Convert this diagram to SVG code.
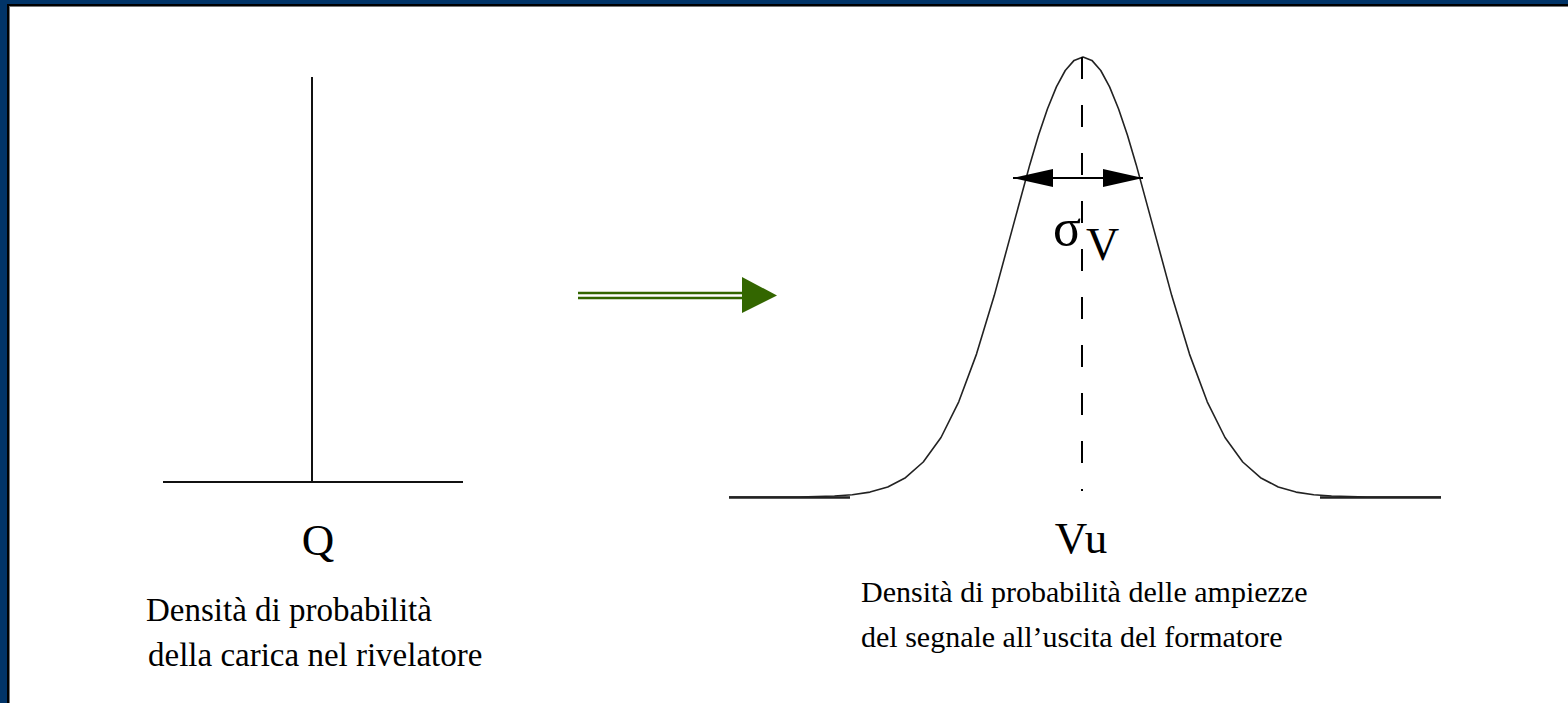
<svg xmlns="http://www.w3.org/2000/svg" width="1568" height="703" viewBox="0 0 1568 703">
<style>
.txt{font-family:"Liberation Serif","Times New Roman",serif;fill:#000}
.lbl{font-size:30px}
.lbl2{font-size:33px}
.big{font-size:45px}
.ln{stroke:#111;stroke-width:2;fill:none}
</style>
<defs>
<marker id="ah" viewBox="0 0 40 18" refX="40" refY="9" markerWidth="40" markerHeight="18" markerUnits="userSpaceOnUse" orient="auto-start-reverse">
<path d="M0,0 L40,9 L0,18 Z" fill="#000"/>
</marker>
</defs>
<rect x="0" y="0" width="1568" height="703" fill="#fff"/>
<g id="frame">
<rect x="0" y="0" width="1568" height="4" fill="#013468"/>
<rect x="0" y="0" width="7" height="703" fill="#013468"/>
<rect x="7" y="4" width="1561" height="2" fill="#000"/>
<rect x="7" y="4" width="2" height="699" fill="#000"/>
<rect x="9" y="6" width="1559" height="1" fill="#777"/>
<rect x="9" y="6" width="1" height="697" fill="#777"/>
</g>
<g id="delta">
<line class="ln" x1="312" y1="77" x2="312" y2="482"/>
<line class="ln" x1="163" y1="482" x2="463" y2="482"/>
<text class="txt big" x="318" y="555" text-anchor="middle">Q</text>
<text class="txt lbl2" x="146" y="621">Densità di probabilità</text>
<text class="txt lbl2" x="148" y="666">della carica nel rivelatore</text>
</g>
<g id="gaussian">
<polyline fill="none" stroke="#222" stroke-width="1.6" stroke-linejoin="round" points="729,497 799,497 834.5,496 852.25,494.8 870,492.1 887.75,487 905.5,477.7 923.25,462 941,437.5 958.75,401.8 976.5,354.1 994.25,295.6 1012,230.1 1029.75,164.9 1038.6,135.1 1047.5,108.7 1056.4,86.9 1065.25,70.5 1074.1,60.4 1083,57 1091.9,60.4 1100.75,70.5 1109.6,86.9 1118.5,108.7 1127.4,135.1 1136.25,164.9 1154,230.1 1171.75,295.6 1189.5,354.1 1207.25,401.8 1225,437.5 1242.75,462 1260.5,477.7 1278.25,487 1296,492.1 1313.75,494.8 1331.5,496 1367,497 1441,497"/>
<line x1="729" y1="497.5" x2="850" y2="497.5" stroke="#222" stroke-width="2.5"/>
<line x1="1320" y1="497.5" x2="1441" y2="497.5" stroke="#222" stroke-width="2.5"/>
<line x1="1082" y1="57" x2="1082" y2="491" stroke="#000" stroke-width="2" stroke-dasharray="22 26"/>
<line x1="1013" y1="178" x2="1143" y2="178" stroke="#000" stroke-width="2" marker-start="url(#ah)" marker-end="url(#ah)"/>
<text class="txt" x="1053" y="245" font-size="52">σ</text>
<text class="txt" x="1086" y="260" font-size="46">V</text>
<text class="txt big" x="1081" y="553" text-anchor="middle">Vu</text>
<text class="txt lbl" x="861" y="602">Densità di probabilità delle ampiezze</text>
<text class="txt lbl" x="861" y="647">del segnale all’uscita del formatore</text>
</g>
<g id="connectors">
<line x1="578" y1="293" x2="744" y2="293" stroke="#336600" stroke-width="2.5"/>
<line x1="578" y1="298" x2="744" y2="298" stroke="#336600" stroke-width="2.5"/>
<polygon points="742,277 777,295.5 742,313" fill="#336600"/>
</g>
</svg>
